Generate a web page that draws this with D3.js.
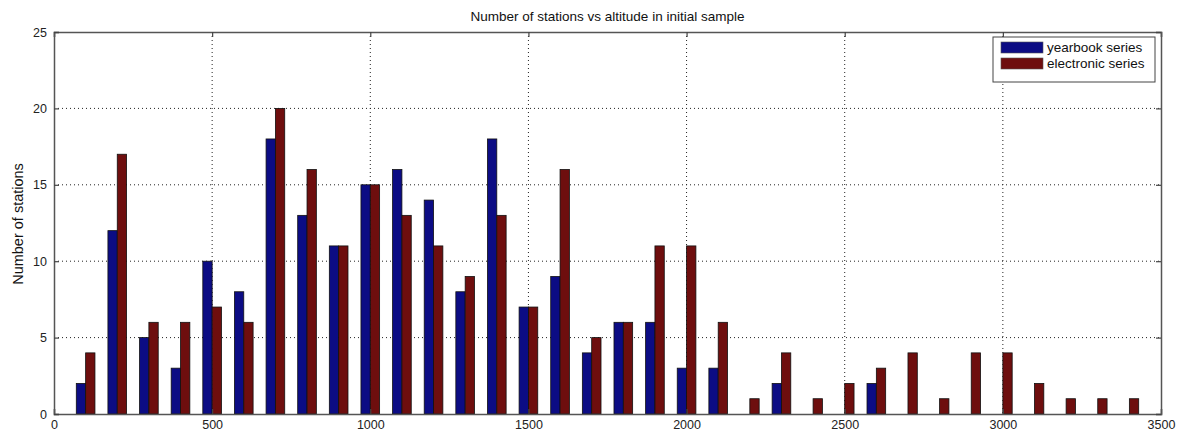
<!DOCTYPE html>
<html>
<head>
<meta charset="utf-8">
<script src="https://cdn.jsdelivr.net/npm/d3@7"></script>
<style>
  body { margin: 0; background: #fff; }
  text { font-family: "Liberation Sans", Arial, sans-serif; }
</style>
</head>
<body>
<svg id="mainFrame"></svg>
<script>
const altitudes = [100, 200, 300, 400, 500, 600, 700, 800, 900, 1000, 1100, 1200, 1300, 1400, 1500, 1600, 1700,
    1800, 1900, 2000, 2100, 2200, 2300, 2400, 2500, 2600, 2700, 2800, 2900, 3000, 3100, 3200, 3300, 3400]
const yearbook = [2, 12, 5, 3, 10, 8, 18, 13, 11, 15, 16, 14, 8, 18, 7, 9, 4,
    6, 6, 3, 3, 0, 2, 0, 0, 2, 0, 0, 0, 0, 0, 0, 0, 0]
const electronic = [4, 17, 6, 6, 7, 6, 20, 16, 11, 15, 13, 11, 9, 13, 7, 16, 5,
    6, 11, 11, 6, 1, 4, 1, 2, 3, 4, 1, 4, 4, 2, 1, 1, 1]
const xTicks = [0, 500, 1000, 1500, 2000, 2500, 3000, 3500]
const yTicks = [0, 5, 10, 15, 20, 25]
const seriesNames = ['yearbook series', 'electronic series']
const seriesColors = ['#0c0c84', '#6e0e0e']

const width = 1179, height = 433
const margin = { top: 32, right: 18, bottom: 19, left: 54 }
const ourWidth = width - margin.left - margin.right
const ourHeight = height - margin.top - margin.bottom

const svg = d3.select('#mainFrame')
    .attr('width', width)
    .attr('height', height)

const g = svg.append('g')
    .attr('transform', `translate(${margin.left},${margin.top})`)

const x = d3.scaleLinear().domain([0, 3500]).range([0, ourWidth])
const y = d3.scaleLinear().domain([0, 25]).range([ourHeight, 0])
const barW = x(29.5) - x(0)

// grid
g.append('g').selectAll('line')
    .data(xTicks.slice(1, -1))
    .join('line')
    .attr('x1', d => x(d)).attr('x2', d => x(d))
    .attr('y1', 0).attr('y2', ourHeight)
    .attr('stroke', '#222').attr('stroke-width', 1).attr('stroke-dasharray', '1,3')
g.append('g').selectAll('line')
    .data(yTicks.slice(1, -1))
    .join('line')
    .attr('x1', 0).attr('x2', ourWidth)
    .attr('y1', d => y(d)).attr('y2', d => y(d))
    .attr('stroke', '#222').attr('stroke-width', 1).attr('stroke-dasharray', '1,3')

// bars
const series = [yearbook, electronic]
series.forEach((vals, s) => {
    g.append('g').selectAll('rect')
        .data(altitudes.map((a, i) => ({ a, v: vals[i] })).filter(d => d.v > 0))
        .join('rect')
        .attr('x', d => x(d.a) + (s === 0 ? -barW : 0))
        .attr('width', barW)
        .attr('y', d => y(d.v))
        .attr('height', d => y(0) - y(d.v))
        .attr('fill', seriesColors[s])
        .attr('stroke', '#111')
        .attr('stroke-width', 0.8)
})

// axes (MATLAB style box, inward ticks)
const fmt = d3.format('d')
const xAxis = g.append('g')
    .attr('transform', `translate(0,${ourHeight})`)
    .call(d3.axisBottom(x).tickValues(xTicks).tickSize(-5).tickPadding(6).tickFormat(fmt))
const xTop = g.append('g')
    .call(d3.axisTop(x).tickValues(xTicks).tickSize(-5).tickFormat(''))
const yAxis = g.append('g')
    .call(d3.axisLeft(y).tickValues(yTicks).tickSize(-5).tickPadding(7).tickFormat(fmt))
const yRight = g.append('g')
    .attr('transform', `translate(${ourWidth},0)`)
    .call(d3.axisRight(y).tickValues(yTicks).tickSize(-5).tickFormat(''))

;[xAxis, xTop, yAxis, yRight].forEach(a => {
    a.select('.domain').attr('stroke', '#555').attr('stroke-width', 1.5)
    a.selectAll('.tick line').attr('stroke', '#444').attr('stroke-width', 1.2)
    a.selectAll('text').attr('font-size', 12.5).attr('fill', '#222')
})

// title
svg.append('text')
    .attr('x', margin.left + ourWidth / 2)
    .attr('y', 21)
    .attr('text-anchor', 'middle')
    .attr('font-size', 13.5)
    .attr('fill', '#111')
    .text('Number of stations vs altitude in initial sample')

// y label
svg.append('text')
    .attr('transform', `translate(23,${margin.top + ourHeight / 2 + 1}) rotate(-90)`)
    .attr('text-anchor', 'middle')
    .attr('font-size', 14.5)
    .attr('fill', '#111')
    .text('Number of stations')

// legend
const legend = svg.append('g')
    .attr('transform', 'translate(993,37)')
legend.append('rect')
    .attr('width', 162).attr('height', 45)
    .attr('fill', '#fff').attr('stroke', '#444').attr('stroke-width', 1)
seriesNames.forEach((name, i) => {
    legend.append('rect')
        .attr('x', 8).attr('y', 5 + i * 16)
        .attr('width', 42).attr('height', 11)
        .attr('fill', seriesColors[i])
        .attr('stroke', '#555').attr('stroke-width', 0.6)
    legend.append('text')
        .attr('x', 54).attr('y', 15 + i * 16)
        .attr('font-size', 13.5)
        .attr('fill', '#111')
        .text(name)
})
</script>
</body>
</html>
